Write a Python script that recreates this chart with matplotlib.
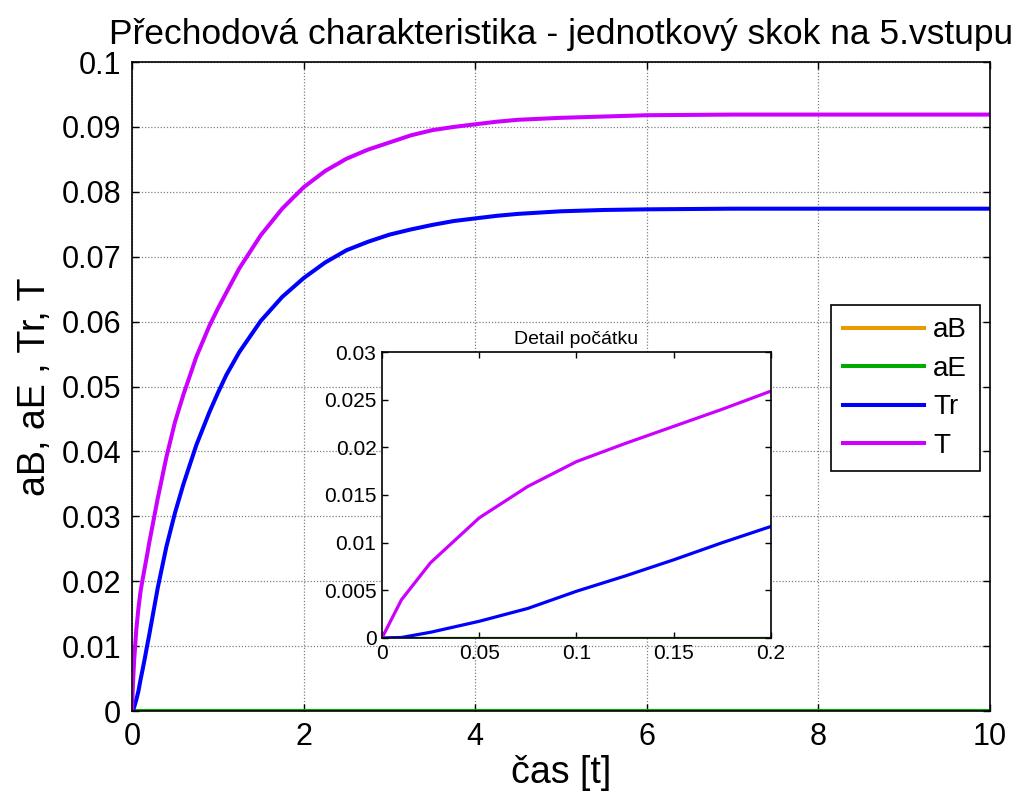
import matplotlib
matplotlib.use('Agg')
import matplotlib.pyplot as plt
from matplotlib.ticker import FuncFormatter

plt.rcParams['font.family'] = ['Liberation Sans', 'DejaVu Sans']

# cas [t] and responses
t = [0, 0.01, 0.025, 0.05, 0.075, 0.1, 0.125, 0.15, 0.175, 0.2, 0.3, 0.4, 0.5, 0.6,
     0.75, 0.9, 1.0, 1.1, 1.25, 1.5, 1.75, 2.0, 2.25, 2.5, 2.75, 3.0, 3.25, 3.5,
     3.75, 4.0, 4.25, 4.5, 5.0, 5.5, 6.0, 7.0, 8.0, 9.0, 10.0]
T = [0, 0.0040, 0.0079, 0.0126, 0.0159, 0.0185, 0.0204, 0.0222, 0.0240, 0.0259,
     0.0328, 0.0391, 0.0445, 0.0488, 0.0546, 0.0593, 0.0620, 0.0645, 0.0682,
     0.0733, 0.0774, 0.0807, 0.0832, 0.0851, 0.0865, 0.0876, 0.0887, 0.0895,
     0.0900, 0.0904, 0.0908, 0.0911, 0.0914, 0.0916, 0.0918, 0.0919, 0.0919,
     0.0919, 0.0919]
Tr = [0, 0.00005, 0.0006, 0.00175, 0.0031, 0.0049, 0.0065, 0.0082, 0.0100, 0.0117,
      0.0190, 0.0253, 0.0305, 0.0350, 0.0410, 0.0460, 0.0490, 0.0518, 0.0553,
      0.0601, 0.0638, 0.0667, 0.0691, 0.0710, 0.0723, 0.0734, 0.0742, 0.0749,
      0.0755, 0.0759, 0.0763, 0.0766, 0.0770, 0.0772, 0.0773, 0.0774, 0.0774,
      0.0774, 0.0774]
aB = [0.0] * len(t)
aE = [0.0] * len(t)

names = ['aB', 'aE', 'Tr', 'T']
colors = ['#E89A00', '#00AA00', '#0000FF', '#CC00FF']
series = [aB, aE, Tr, T]

main_xticks = [0, 2, 4, 6, 8, 10]
main_yticks = [0, 0.01, 0.02, 0.03, 0.04, 0.05, 0.06, 0.07, 0.08, 0.09, 0.1]
ins_xticks = [0, 0.05, 0.1, 0.15, 0.2]
ins_yticks = [0, 0.005, 0.01, 0.015, 0.02, 0.025, 0.03]

fmt = FuncFormatter(lambda v, p: '%g' % v)

fig = plt.figure(figsize=(10.34, 7.93), dpi=100)
ax = fig.add_axes([0.1277, 0.1034, 0.8297, 0.8184])
for s, c, n in zip(series, colors, names):
    ax.plot(t, s, color=c, lw=2.9, label=n)
ax.set_xlim(0, 10)
ax.set_ylim(0, 0.1)
ax.set_xticks(main_xticks)
ax.set_yticks(main_yticks)
ax.xaxis.set_major_formatter(fmt)
ax.yaxis.set_major_formatter(fmt)
ax.tick_params(direction='in', top=True, right=True, length=5, width=1,
               labelsize=22, pad=8)
ax.grid(True, color='#808080', linestyle=(0, (1, 1.5)), lw=0.9)
for sp in ax.spines.values():
    sp.set_linewidth(1.2)
ax.set_title('Přechodová charakteristika - jednotkový skok na 5.vstupu',
             fontsize=25.5, pad=13)
ax.set_xlabel('čas [t]', fontsize=27, labelpad=2)
ax.set_ylabel('aB, aE , Tr, T', fontsize=27, labelpad=6)
leg = ax.legend(loc='upper right', bbox_to_anchor=(0.988, 0.6256), fontsize=20,
                handlelength=2.9, handletextpad=0.35, labelspacing=0.45,
                fancybox=False, framealpha=1, edgecolor='black', borderpad=0.45,
                borderaxespad=0)
leg.get_frame().set_linewidth(1.2)

# detail of the start
ins = fig.add_axes([0.3694, 0.1955, 0.3762, 0.3606])
for s, c in zip(series, colors):
    ins.plot(t, s, color=c, lw=2.3)
ins.set_xlim(0, 0.2)
ins.set_ylim(0, 0.03)
ins.set_xticks(ins_xticks)
ins.set_yticks(ins_yticks)
ins.xaxis.set_major_formatter(fmt)
ins.yaxis.set_major_formatter(fmt)
ins.tick_params(direction='in', top=True, right=True, length=4, width=1,
                labelsize=15, pad=4)
for sp in ins.spines.values():
    sp.set_linewidth(1.2)
ins.set_title('Detail počátku', fontsize=14, pad=6)

fig.savefig('out.png', dpi=100)
